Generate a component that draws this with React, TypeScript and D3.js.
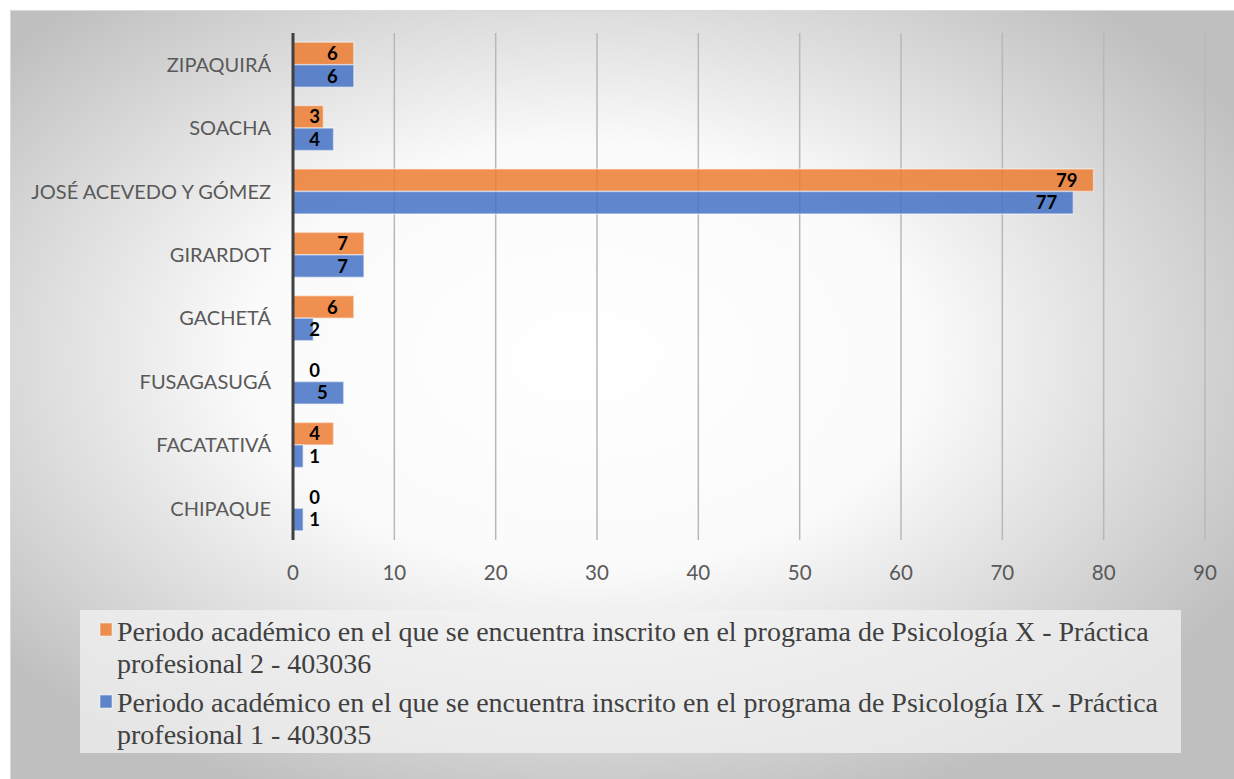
import React from 'react';
import * as d3 from 'd3';

const categories = ['ZIPAQUIRÁ', 'SOACHA', 'JOSÉ ACEVEDO Y GÓMEZ', 'GIRARDOT', 'GACHETÁ', 'FUSAGASUGÁ', 'FACATATIVÁ', 'CHIPAQUE'];
const periodX = [6, 3, 79, 7, 6, 0, 4, 0];
const periodIX = [6, 4, 77, 7, 2, 5, 1, 1];
const xTicks = [0, 10, 20, 30, 40, 50, 60, 70, 80, 90];
const seriesNames = [
  ['Periodo académico en el que se encuentra inscrito en el programa de Psicología X - Práctica', 'profesional 2 - 403036'],
  ['Periodo académico en el que se encuentra inscrito en el programa de Psicología IX - Práctica', 'profesional 1 - 403035'],
];
const seriesColors = ['#ED7D31', '#4472C4'];

const W = 1234;
const H = 779;

const App = () => {
  const margin = { top: 33, right: 29, bottom: 239, left: 293 };

  const x = d3.scaleLinear()
    .domain([0, 90])
    .range([margin.left, W - margin.right]);

  const y = d3.scaleBand<string>()
    .domain(categories)
    .range([margin.top, H - margin.bottom])
    .paddingInner(0.29)
    .paddingOuter(0.145);

  const sub = d3.scaleBand<number>()
    .domain([0, 1])
    .range([0, y.bandwidth()]);

  const series = [periodX, periodIX];
  const sans = 'Lato, "Open Sans", sans-serif';

  return (
    <div style={{ position: 'absolute', left: 0, top: 0 }}>
      <svg width={W} height={H} style={{ display: 'block' }}>
        <defs>
          <radialGradient id="bg" cx="0.47" cy="0.45" r="0.62">
            <stop offset="0" stopColor="#ffffff" />
            <stop offset="0.45" stopColor="#fafafa" />
            <stop offset="1" stopColor="#bfbfbf" />
          </radialGradient>
        </defs>
        <rect x={0} y={0} width={W} height={H} fill="#fff" />
        <rect x={10.5} y={10.5} width={W - 10} height={H - 10} fill="url(#bg)" stroke="#d9d9d9" />

        {/* gridlines */}
        {xTicks.filter(t => t > 0).map(t => (
          <line key={t} x1={x(t)} x2={x(t)} y1={margin.top} y2={H - margin.bottom}
            stroke="#b8b8b8" strokeWidth={1.5} />
        ))}

        {/* bars */}
        {categories.map((c, i) => series.map((s, k) => (
          <rect key={c + k}
            x={x(0)} y={(y(c) as number) + (sub(k) as number)}
            width={x(s[i]) - x(0)} height={sub.bandwidth()}
            fill={seriesColors[k]} fillOpacity={0.85}
            stroke="#fff" strokeOpacity={0.45} strokeWidth={1.5} />
        )))}

        {/* data labels */}
        {categories.map((c, i) => series.map((s, k) => (
          <text key={'l' + c + k}
            x={Math.max(x(s[i]) - 16, 320)}
            y={(y(c) as number) + (sub(k) as number) + sub.bandwidth() / 2}
            dy="0.36em" textAnchor="end" fontFamily={sans} fontWeight="bold"
            fontSize={18.5} fill="#000">{s[i]}</text>
        )))}

        {/* axis line */}
        <line x1={x(0)} x2={x(0)} y1={margin.top} y2={H - margin.bottom} stroke="#404040" strokeWidth={3} />

        {/* category labels */}
        {categories.map(c => (
          <text key={'c' + c} x={271} y={(y(c) as number) + y.bandwidth() / 2}
            dy="0.36em" textAnchor="end" fontFamily={sans} fontSize={20} fill="#595959">{c}</text>
        ))}

        {/* tick labels */}
        {xTicks.map(t => (
          <text key={'t' + t} x={x(t)} y={573} dy="0.36em" textAnchor="middle"
            fontFamily={sans} fontSize={20.5} fill="#595959">{t}</text>
        ))}

        {/* legend */}
        <rect x={80} y={610} width={1101} height={143} fill="#f2f2f2" fillOpacity={0.75} />
        {seriesNames.map((lines, k) => (
          <g key={'lg' + k}>
            <rect x={100} y={623 + k * 72} width={12} height={13} fill={seriesColors[k]} fillOpacity={0.85}
              stroke="#fff" strokeOpacity={0.5} />
            {lines.map((ln, j) => (
              <text key={j} x={117} y={641 + k * 71 + j * 32}
                fontFamily='"Liberation Serif", "Times New Roman", serif' fontSize={28} fill="#404040">{ln}</text>
            ))}
          </g>
        ))}
      </svg>
    </div>
  );
};

export default App;
